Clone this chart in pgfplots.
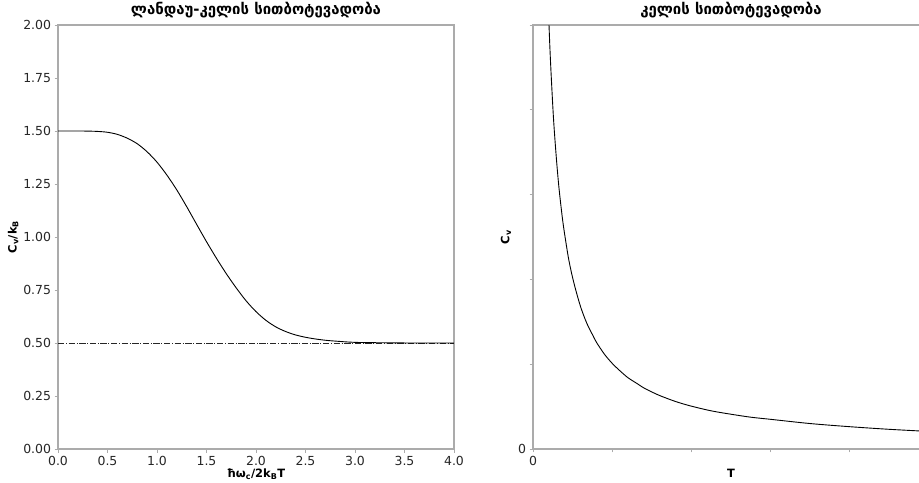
\documentclass[border=0pt]{standalone}
\usepackage{fontspec}
\setmainfont{DejaVu Sans}
\usepackage{pgfplots}
\pgfplotsset{compat=1.18}
\definecolor{spine}{HTML}{ABABAB}

\begin{document}
\begin{tikzpicture}
\pgfplotsset{every axis/.append style={
    scale only axis, width=396bp, height=424bp, anchor=south west,
    axis line style={spine, line width=1.3bp},
    tick style={spine, line width=0.8bp},
    tick align=outside, major tick length=3.5bp,
    xtick pos=bottom, ytick pos=left,
    ticklabel style={font=\fontsize{12.5}{14}\selectfont, text=black!85},
    /pgf/number format/assume math mode=true,
    title style={font=\bfseries\fontsize{15}{17}\selectfont, at={(0.5,1)}, anchor=south, yshift=-2bp},
    label style={font=\bfseries\fontsize{11.5}{13}\selectfont},
    xlabel style={yshift=3bp},
}}

% left: Landau-Kelly heat capacity
\begin{axis}[at={(58bp,34bp)},
    xmin=0, xmax=4, ymin=0, ymax=2,
    xtick={0,0.5,...,4}, ytick={0,0.25,...,2},
    xticklabel style={/pgf/number format/.cd, fixed, fixed zerofill, precision=1},
    yticklabel style={/pgf/number format/.cd, fixed, fixed zerofill, precision=2},
    title={ლანდაუ-კელის სითბოტევადობა},
    xlabel={ħω\textsubscript{c}/2k\textsubscript{B}T},
    ylabel={C\textsubscript{v}/k\textsubscript{B}},
    ylabel style={yshift=-2bp},
]
\addplot[black!85, line width=0.8bp, dash pattern=on 6.4bp off 1.6bp on 1bp off 1.6bp] coordinates {(0,0.5) (4,0.5)};
\addplot[black, line width=0.9bp, smooth] coordinates {
(0,1.5) (0.2,1.5) (0.3,1.4995) (0.4,1.498) (0.5,1.494) (0.6,1.484) (0.7,1.466)
(0.8,1.44) (0.9,1.402) (1.0,1.353) (1.1,1.292) (1.2,1.222) (1.3,1.143) (1.4,1.06)
(1.5,0.978) (1.6,0.9) (1.7,0.827) (1.8,0.76) (1.9,0.699) (2.0,0.648) (2.1,0.607)
(2.2,0.576) (2.3,0.554) (2.4,0.538) (2.5,0.527) (2.6,0.519) (2.7,0.513) (2.8,0.509)
(3.0,0.503) (3.3,0.501) (3.6,0.5) (4.0,0.5)};
\end{axis}

% right: Kelly heat capacity
\begin{axis}[at={(533bp,34bp)},
    xmin=0, xmax=5, ymin=0, ymax=5,
    xtick={0,1,2,3,4,5}, xticklabels={0,,,,,},
    ytick={0,1,2,3,4,5}, yticklabels={0,,,,,},
    title={კელის სითბოტევადობა},
    xlabel={T},
    ylabel={C\textsubscript{v}},
]
\addplot[black, line width=0.9bp, smooth] coordinates {
(0.18,5.61) (0.2,5.05) (0.22,4.59) (0.25,4.04) (0.27,3.74) (0.3,3.37) (0.33,3.06)
(0.37,2.73) (0.4,2.53) (0.45,2.24) (0.5,2.02) (0.55,1.84) (0.6,1.68) (0.65,1.55)
(0.7,1.44) (0.75,1.35) (0.8,1.26) (0.9,1.12) (1.0,1.01) (1.1,0.92) (1.2,0.84)
(1.3,0.78) (1.4,0.72) (1.5,0.673) (1.6,0.63) (1.8,0.56) (2.0,0.505) (2.25,0.45)
(2.5,0.41) (2.75,0.375) (3.0,0.35) (3.5,0.30) (4.0,0.263) (4.5,0.232) (5.0,0.207)};
\end{axis}

\pgfresetboundingbox
\path[use as bounding box] (0,0) rectangle (919bp,483bp);
\end{tikzpicture}
\end{document}
